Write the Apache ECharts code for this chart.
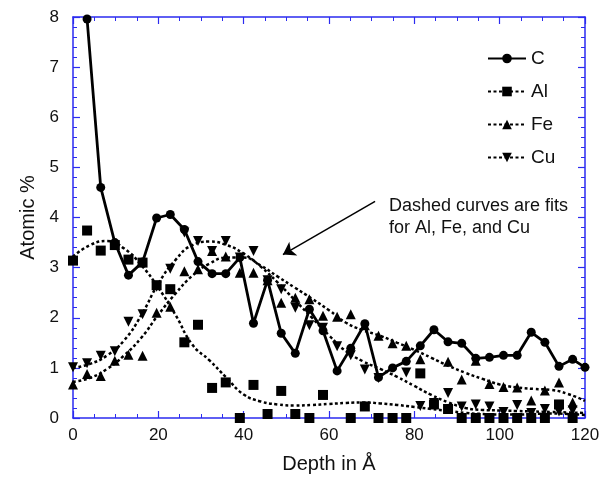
<!DOCTYPE html>
<html>
<head>
<meta charset="utf-8">
<script src="https://cdn.jsdelivr.net/npm/echarts@6/dist/echarts.min.js"></script>
<style>
  html, body { margin: 0; padding: 0; background: #fff; }
  #chart { width: 608px; height: 479px; }
</style>
</head>
<body>
<div id="chart"></div>
<script>
// depth of the measured points (Å)
var depth = [0, 3.3, 6.5, 9.8, 13.0, 16.3, 19.6, 22.8, 26.1, 29.3, 32.6, 35.8, 39.1, 42.3, 45.6, 48.8,
    52.1, 55.4, 58.6, 61.9, 65.1, 68.4, 71.6, 74.9, 78.1, 81.4, 84.6, 87.9, 91.1, 94.4, 97.6, 100.9,
    104.1, 107.4, 110.6, 113.9, 117.1, 120];

// C starts at the 2nd depth
var cVals = [null, 7.96, 4.6, 3.5, 2.85, 3.11, 3.99, 4.06, 3.76, 3.12, 2.88, 2.88, 3.2, 1.89, 2.75, 1.69,
    1.29, 2.17, 1.74, 0.94, 1.39, 1.88, 0.81, 1.0, 1.13, 1.44, 1.76, 1.52, 1.49, 1.19, 1.21, 1.25,
    1.25, 1.71, 1.51, 1.03, 1.17, 1.01];

var alVals = [3.14, 3.74, 3.34, 3.45, 3.16, 3.1, 2.65, 2.57, 1.51, 1.86, 0.6, 0.71, 0, 0.66, 0.08, 0.54,
    0.08, 0, 0.46, null, 0, 0.23, 0, 0, 0, 0.89, 0.27, 0.18, 0, 0, 0, 0,
    0, 0, 0, 0.27, 0, null];

var feVals = [0.67, 0.88, 0.84, 1.14, 1.26, 1.24, 2.1, 2.22, 2.93, 2.97, 3.33, 3.22, 2.9, 2.9, 2.75, 2.3,
    2.4, 2.37, 2.04, 2.02, 2.07, 1.85, 1.64, 1.49, 1.44, 1.17, null, 1.12, 0.77, 1.14, 0.68, 0.62,
    0.61, 0.35, 0.55, 0.71, 0.31, null];

var cuVals = [1.01, 1.09, 1.24, 1.33, 1.92, 2.07, 2.62, 2.98, 3.7, 3.53, 3.33, 3.53, 3.2, 3.33, 2.75, 2.57,
    2.2, 1.85, 1.8, 1.43, 1.25, 0.97, 0.8, null, 0.91, 0.24, 0.3, 0.5, 0.23, 0.27, 0.23, 0.12,
    0.26, 0.1, 0.18, 0.13, 0.15, null];

// dashed fit curves
var fitDepth = [0, 4, 8, 12, 16, 20, 24, 28, 32, 36, 40, 44, 48, 52, 56, 60, 64, 68, 72, 76, 80,
    84, 88, 92, 96, 100, 104, 108, 112, 116, 120];
var alFit = [3.22, 3.45, 3.53, 3.38, 3.05, 2.6, 2.06, 1.46, 1.15, 0.8, 0.47, 0.33, 0.27, 0.25, 0.26, 0.28,
    0.3, 0.31, 0.29, 0.26, 0.22, 0.18, 0.14, 0.1, 0.08, 0.07, 0.07, 0.08, 0.09, 0.08, 0.06];
var feFit = [0.72, 0.8, 0.98, 1.25, 1.6, 2.06, 2.48, 2.84, 3.08, 3.2, 3.2, 3.04, 2.82, 2.6, 2.38, 2.15,
    1.9, 1.75, 1.64, 1.5, 1.36, 1.2, 1.04, 0.9, 0.78, 0.67, 0.61, 0.58, 0.56, 0.48, 0.34];
var cuFit = [1.0, 1.08, 1.25, 1.55, 2.05, 2.68, 3.15, 3.45, 3.52, 3.45, 3.28, 3.02, 2.7, 2.35, 2.0, 1.65,
    1.33, 1.13, 0.98, 0.82, 0.64, 0.46, 0.31, 0.2, 0.16, 0.15, 0.14, 0.13, 0.12, 0.11, 0.1];

// arrow of the note, in data units
var arrowFrom = [70.8, 4.32];
var arrowTo = [49.2, 3.26];

function pairs(xs, ys) {
    var out = [];
    for (var i = 0; i < xs.length; i++) {
        if (ys[i] !== null) out.push([xs[i], ys[i]]);
    }
    return out;
}

var FONT = 'Liberation Sans, Arial, Helvetica, sans-serif';
var AXIS_BLUE = '#2b2bf0';
var dashed = { color: '#000', width: 2.5, type: [3, 2.5] };

var chart = echarts.init(document.getElementById('chart'));

function axisBase(show) {
    return {
        min: 0,
        axisLine: { show: true, onZero: false, lineStyle: { color: AXIS_BLUE, width: 1.5 } },
        axisTick: { show: true, inside: true, length: 7, lineStyle: { color: AXIS_BLUE, width: 1.2 } },
        minorTick: { show: true, length: 4, lineStyle: { color: AXIS_BLUE, width: 1 } },
        splitLine: { show: false },
        axisLabel: { show: show, color: '#111', fontSize: 17, fontFamily: FONT }
    };
}

var xBottom = axisBase(true);
xBottom.type = 'value';
xBottom.max = 120;
xBottom.interval = 20;
xBottom.position = 'bottom';
xBottom.minorTick.splitNumber = 4;
xBottom.axisLabel.margin = 9;
xBottom.name = 'Depth in Å';
xBottom.nameLocation = 'middle';
xBottom.nameGap = 36;
xBottom.nameTextStyle = { color: '#111', fontSize: 20, fontFamily: FONT };

var xTop = axisBase(false);
xTop.type = 'value';
xTop.max = 120;
xTop.interval = 20;
xTop.position = 'top';
xTop.minorTick.splitNumber = 4;

var yLeft = axisBase(true);
yLeft.type = 'value';
yLeft.max = 8;
yLeft.interval = 1;
yLeft.position = 'left';
yLeft.minorTick.splitNumber = 5;
yLeft.axisLabel.margin = 14;
yLeft.name = 'Atomic %';
yLeft.nameLocation = 'middle';
yLeft.nameGap = 34;
yLeft.nameTextStyle = { color: '#111', fontSize: 20, fontFamily: FONT };

var yRight = axisBase(false);
yRight.type = 'value';
yRight.max = 8;
yRight.interval = 1;
yRight.position = 'right';
yRight.minorTick.splitNumber = 5;

var option = {
    backgroundColor: '#fff',
    animation: false,
    grid: { left: 73, right: 23, top: 17, bottom: 60 },
    xAxis: [xBottom, xTop],
    yAxis: [yLeft, yRight],
    legend: {
        data: ['C', 'Al', 'Fe', 'Cu'],
        orient: 'vertical',
        left: 482,
        top: 44,
        itemWidth: 38,
        itemHeight: 12,
        itemGap: 14,
        textStyle: { color: '#111', fontSize: 19, fontFamily: FONT },
        selectedMode: false
    },
    graphic: [{
        type: 'text',
        left: 389,
        top: 195,
        style: {
            text: 'Dashed curves are fits\nfor Al, Fe, and Cu',
            font: '18px ' + FONT,
            fill: '#111',
            lineHeight: 22
        }
    }],
    series: [
        {
            name: 'C',
            type: 'line',
            data: pairs(depth, cVals),
            symbol: 'circle',
            symbolSize: 9,
            itemStyle: { color: '#000' },
            lineStyle: { color: '#000', width: 2.8 },
            z: 5,
            markLine: {
                silent: true,
                symbol: ['none', 'arrow'],
                symbolSize: 12,
                label: { show: false },
                lineStyle: { color: '#000', width: 1.5, type: 'solid' },
                data: [[{ coord: arrowFrom }, { coord: arrowTo }]]
            }
        },
        {
            name: 'Al',
            type: 'line',
            data: pairs(fitDepth, alFit),
            smooth: true,
            symbol: 'rect',
            showSymbol: false,
            itemStyle: { color: '#000' },
            lineStyle: dashed
        },
        {
            name: 'Fe',
            type: 'line',
            data: pairs(fitDepth, feFit),
            smooth: true,
            symbol: 'triangle',
            showSymbol: false,
            itemStyle: { color: '#000' },
            lineStyle: dashed
        },
        {
            name: 'Cu',
            type: 'line',
            data: pairs(fitDepth, cuFit),
            smooth: true,
            symbol: 'triangle',
            symbolRotate: 180,
            showSymbol: false,
            itemStyle: { color: '#000' },
            lineStyle: dashed
        },
        {
            name: 'Al points',
            type: 'scatter',
            data: pairs(depth, alVals),
            symbol: 'rect',
            symbolSize: 10,
            itemStyle: { color: '#000', opacity: 1 }
        },
        {
            name: 'Fe points',
            type: 'scatter',
            data: pairs(depth, feVals),
            symbol: 'triangle',
            symbolSize: 10,
            itemStyle: { color: '#000', opacity: 1 }
        },
        {
            name: 'Cu points',
            type: 'scatter',
            data: pairs(depth, cuVals),
            symbol: 'triangle',
            symbolRotate: 180,
            symbolSize: 10,
            itemStyle: { color: '#000', opacity: 1 }
        }
    ]
};

chart.setOption(option);
</script>
</body>
</html>
